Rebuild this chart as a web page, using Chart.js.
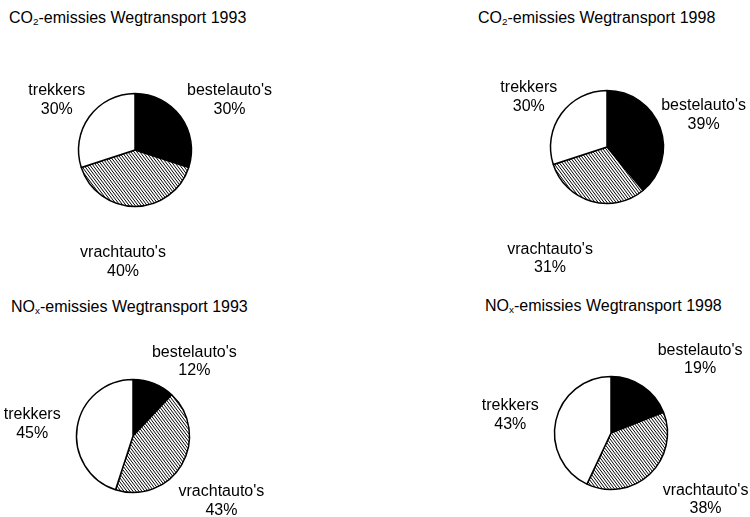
<!DOCTYPE html>
<html>
<head>
<meta charset="utf-8">
<script src="https://cdn.jsdelivr.net/npm/chart.js@4/dist/chart.umd.min.js"></script>
<style>
  html, body { margin: 0; padding: 0; background: #fff; }
  body { width: 750px; height: 517px; position: relative; overflow: hidden;
         font-family: "Liberation Sans", Arial, sans-serif; color: #000; }
  .title { position: absolute; font-size: 16px; line-height: 1; white-space: nowrap; }
  .title sub { font-size: 0.62em; vertical-align: -0.25em; line-height: 0; }
  .pie { position: absolute; width: 320px; height: 260px; }
</style>
</head>
<body>
<div class="title" style="left:9px;top:10px">CO<sub>2</sub>-emissies Wegtransport 1993</div>
<div class="title" style="left:478px;top:10px">CO<sub>2</sub>-emissies Wegtransport 1998</div>
<div class="title" style="left:11px;top:299px">NO<sub>x</sub>-emissies Wegtransport 1993</div>
<div class="title" style="left:485px;top:298px">NO<sub>x</sub>-emissies Wegtransport 1998</div>

<div class="pie" style="left:-25px;top:20px"><canvas id="co2_1993" width="320" height="260"></canvas></div>
<div class="pie" style="left:447px;top:17px"><canvas id="co2_1998" width="320" height="260"></canvas></div>
<div class="pie" style="left:-27px;top:306px"><canvas id="nox_1993" width="320" height="260"></canvas></div>
<div class="pie" style="left:451px;top:303px"><canvas id="nox_1998" width="320" height="260"></canvas></div>

<script>
// Vehicle categories, in drawing order (clockwise from 12 o'clock)
const categories = ["bestelauto's", "vrachtauto's", "trekkers"];

// Share of road-transport emissions per category (%)
const co2_1993 = [30, 40, 30];
const co2_1998 = [39, 31, 30];
const nox_1993 = [12, 43, 45];
const nox_1998 = [19, 38, 43];

// Diagonal hatch used for the vrachtauto's slice
function makeHatch() {
  const w = 3, h = 4;
  const c = document.createElement('canvas');
  c.width = w; c.height = h;
  const g = c.getContext('2d');
  g.fillStyle = '#fff';
  g.fillRect(0, 0, w, h);
  g.strokeStyle = '#000';
  g.lineWidth = 1;
  for (let k = -2; k <= 2; k++) {
    g.beginPath();
    g.moveTo(k * w - w, -h);
    g.lineTo(k * w + 2 * w, 2 * h);
    g.stroke();
  }
  return g.createPattern(c, 'repeat');
}
const hatch = makeHatch();

// Two-line labels (name + percentage) placed just outside each slice
const outsideLabels = {
  id: 'outsideLabels',
  afterDatasetsDraw(chart, args, opts) {
    const ctx = chart.ctx;
    const meta = chart.getDatasetMeta(0);
    const values = chart.data.datasets[0].data;
    ctx.save();
    ctx.font = opts.font;
    ctx.fillStyle = '#000';
    ctx.textAlign = 'center';
    ctx.textBaseline = 'middle';
    meta.data.forEach((arc, i) => {
      const p = arc.getProps(['x', 'y', 'startAngle', 'endAngle', 'outerRadius'], true);
      const mid = (p.startAngle + p.endAngle) / 2;
      const dx = Math.cos(mid), dy = Math.sin(mid);
      const lines = [chart.data.labels[i], values[i] + '%'];
      const w = Math.max(...lines.map(l => ctx.measureText(l).width));
      const h = opts.lineHeight * lines.length;
      const n = (opts.nudge && opts.nudge[i]) || [0, 0];
      const cx = p.x + dx * (p.outerRadius + opts.gap) + dx * w / 2 + n[0];
      const cy = p.y + dy * (p.outerRadius + opts.gap) + dy * h / 2 + n[1];
      lines.forEach((l, k) => {
        ctx.fillText(l, cx, cy + (k - (lines.length - 1) / 2) * opts.lineHeight);
      });
    });
    ctx.restore();
  }
};

function pie(id, values, nudge) {
  return new Chart(document.getElementById(id), {
    type: 'pie',
    data: {
      labels: categories,
      datasets: [{
        data: values,
        backgroundColor: ['#000', hatch, '#fff'],
        borderColor: '#000',
        borderWidth: 1.5
      }]
    },
    options: {
      responsive: false,
      devicePixelRatio: 1,
      animation: false,
      radius: 56.5,
      layout: { padding: 0 },
      events: [],
      plugins: {
        legend: { display: false },
        tooltip: { enabled: false },
        outsideLabels: {
          font: '16px "Liberation Sans", Arial, sans-serif',
          lineHeight: 18.5,
          gap: 8,
          nudge: nudge
        }
      }
    },
    plugins: [outsideLabels]
  });
}

pie('co2_1993', co2_1993, [[8, -1], [-12, 29], [-3, -1]]);
pie('co2_1998', co2_1998, [[-4, -4], [-27, 32], [-3, -1]]);
pie('nox_1993', nox_1993, [[22, 3], [-4, 23], [-9, 1]]);
pie('nox_1998', nox_1998, [[29, -5], [21, 6], [-10, 0]]);
</script>
</body>
</html>
